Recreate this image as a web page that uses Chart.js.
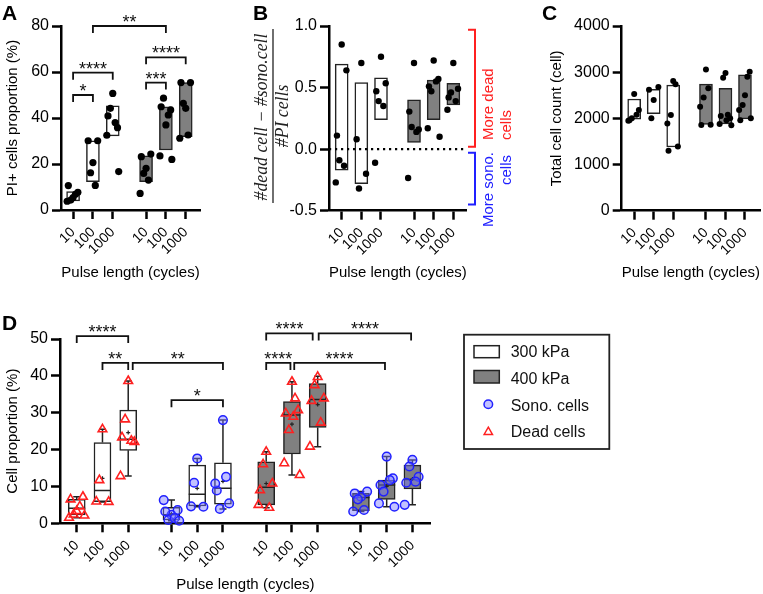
<!DOCTYPE html>
<html><head><meta charset="utf-8">
<script src="https://cdn.jsdelivr.net/npm/chart.js@4.4.0/dist/chart.umd.min.js"></script>
<style>
html,body{margin:0;padding:0;background:#fff;}
#wrap{position:relative;width:763px;height:594px;overflow:hidden;background:#fff;}
canvas{position:absolute;}
</style></head><body>
<div id="wrap">
<canvas id="cA" width="245" height="290" style="left:0px;top:0px"></canvas>
<canvas id="cB" width="275" height="290" style="left:240px;top:0px"></canvas>
<canvas id="cC" width="238" height="290" style="left:525px;top:0px"></canvas>
<canvas id="cD" width="763" height="294" style="left:0px;top:300px"></canvas>
</div>
<script>
// ---------------- DATA ----------------
const tickLabels = ['10', '100', '1000', '10', '100', '1000'];
const tickLabelsD = ['10', '100', '1000', '10', '100', '1000', '10', '100', '1000', '10', '100', '1000'];
const groupNames = ['300 kPa', '400 kPa'];
const seriesNames = ['Sono. cells', 'Dead cells'];

// box statistics per box: [min, q1, median, q3, max, mean]
// Panel A – PI+ cells proportion (%); 300 kPa (10,100,1000), 400 kPa (10,100,1000)
const A_stats = [
  [3.8, 4.0, 5.8, 8.0, 10.6, 6.4],
  [10.7, 12.3, 23.2, 30.1, 30.1, 21.7],
  [16.7, 32.2, 36.7, 45.3, 50.7, 36.2],
  [7.2, 12.3, 17.0, 23.6, 24.3, 16.9],
  [22.0, 26.1, 40.6, 44.9, 48.6, 37.5],
  [31.2, 31.9, 44.2, 55.4, 55.4, 44.0]
];
const A_points = [
  [5.4, 10.6, 7.7, 4.3, 6.8, 3.8],
  [20.6, 30.1, 30.1, 16.2, 10.7],
  [50.7, 40.9, 35.8, 44.2, 38.0, 32.5, 16.7],
  [18.1, 23.2, 24.3, 15.9, 13.0, 7.2],
  [37.0, 44.9, 43.5, 48.6, 41.3, 23.5, 22.0],
  [44.2, 55.4, 55.4, 46.4, 32.6, 31.2]
];
// Panel B – (#dead cell − #sono.cell) / #PI cells
const B_stats = [
  [-0.27, -0.17, 0.014, 0.69, 0.85, 0.19],
  [-0.32, -0.28, -0.054, 0.54, 0.70, 0.06],
  [-0.11, 0.24, 0.42, 0.58, 0.75, 0.38],
  [-0.235, 0.054, 0.17, 0.40, 0.70, 0.20],
  [0.10, 0.24, 0.49, 0.56, 0.72, 0.43],
  [0.32, 0.36, 0.45, 0.535, 0.70, 0.46]
];
const B_points = [
  [0.85, 0.11, 0.64, -0.09, -0.135, -0.27],
  [0.70, 0.08, -0.20, -0.32],
  [0.75, 0.47, 0.535, 0.39, 0.35, -0.11],
  [0.70, 0.305, 0.16, 0.18, 0.14, -0.235],
  [0.72, 0.51, 0.57, 0.47, 0.55, 0.17, 0.10],
  [0.70, 0.42, 0.49, 0.46, 0.39, 0.32]
];
// Panel C – Total cell count (cell)
const C_stats = [
  [1950, 1980, 2080, 2420, 2530, 2150],
  [2000, 2100, 2480, 2630, 2680, 2400],
  [1300, 1380, 1990, 2720, 2810, 2050],
  [1855, 1870, 2350, 2740, 3060, 2380],
  [1850, 1880, 2080, 2650, 2980, 2200],
  [1960, 1990, 2560, 2940, 3010, 2450]
];
const C_points = [
  [2530, 1960, 2180, 2000, 2080, 1950],
  [2400, 2620, 2680, 2000],
  [2810, 1300, 1390, 2070, 2740, 1890],
  [3060, 1855, 1860, 2450, 2650, 2250],
  [2980, 2050, 2000, 2880, 2080, 1880, 1850, 1960],
  [2500, 1960, 3010, 2290, 2900, 2180, 2000]
];
// Panel D – Cell proportion (%)
// 300 kPa dead (10,100,1000), 300 kPa sono (10,100,1000), 400 kPa dead (...), 400 kPa sono (...)
const D_stats = [
  [1.5, 2.3, 4.1, 6.5, 7.2, 4.2],
  [5.8, 5.9, 8.9, 21.9, 25.5, 12.2],
  [12.8, 19.8, 22.8, 30.7, 38.6, 24.6],
  [0.7, 0.9, 2.3, 4.3, 6.3, 2.6],
  [4.5, 4.7, 7.9, 15.8, 17.6, 9.5],
  [3.9, 5.2, 9.5, 16.4, 28.0, 11.4],
  [4.2, 5.0, 9.8, 16.7, 19.4, 10.8],
  [13.1, 18.8, 29.4, 33.0, 38.4, 26.9],
  [20.8, 26.0, 33.6, 37.9, 39.9, 32.2],
  [3.2, 3.4, 7.0, 8.1, 8.6, 6.2],
  [4.5, 6.5, 10.4, 11.7, 18.1, 10.0],
  [5.0, 9.3, 11.9, 15.8, 17.2, 12.0]
];
const D_points = [
  [3.3, 6.5, 7.2, 2.4, 4.6, 1.5, 2.1],
  [25.5, 5.9, 5.8, 11.7],
  [38.6, 23.3, 22.1, 28.2, 22.4, 12.8],
  [2.3, 3.2, 3.6, 0.9, 1.4, 6.3, 0.7],
  [17.6, 4.6, 4.5, 11.0],
  [28.0, 8.9, 5.4, 3.9, 12.6, 10.8],
  [19.4, 9.0, 10.8, 16.0, 4.2, 5.0],
  [38.4, 29.8, 30.7, 25.3, 33.9, 16.3, 13.1, 28.9],
  [39.7, 33.2, 33.9, 37.5, 27.3, 20.8],
  [7.2, 8.1, 8.6, 6.5, 3.6, 3.2],
  [18.1, 10.4, 12.2, 8.6, 11.7, 5.4, 4.5],
  [17.2, 11.0, 12.6, 15.4, 11.3, 5.0]
];
// significance annotations: [fromBox, toBox, height (axis units), label]
const A_sig = [[0, 1, 50, '*'], [0, 2, 59.7, '****'], [1, 4, 80, '**'], [3, 4, 55.4, '***'], [3, 5, 66.4, '****']];
const D_sig = [[0, 2, 50.8, '****'], [1, 2, 43.5, '**'], [2, 5, 43.5, '**'], [3, 5, 33.4, '*'],
               [6, 8, 51.5, '****'], [6, 7, 43.5, '****'], [8, 11, 51.5, '****'], [7, 10, 43.5, '****']];

// ---------------- LAYOUT / STYLE ----------------
const posABC = [0, 1, 2, 3.68, 4.68, 5.68];
const posD = [0, 1, 2, 3.68, 4.68, 5.68, 7.36, 8.36, 9.36, 11.04, 12.04, 13.04];
const D_sigNudge = [[0, 0], [0, 0], [4.5, 0], [0, 0], [0, -5], [0, -1.5], [1, -1.3], [2.3, -1.7]];
const JIT = [0, -0.24, 0.24, -0.12, 0.12, -0.3, 0.3, 0.05];
const WHITE = '#ffffff', GREY = '#808080';
const FONT = "'Liberation Sans', Arial, Helvetica, sans-serif";
Chart.defaults.font.family = FONT;
Chart.defaults.color = '#000';

function boxData(stats, pos) { return stats.map((s, i) => ({ x: pos[i], y: [s[1], s[3]] })); }
function pointData(points, pos, idxs) {
  const out = [];
  idxs.forEach(i => points[i].forEach((v, k) => out.push({ x: pos[i] + JIT[k % JIT.length], y: v })));
  return out;
}

const boxPlugin = {
  id: 'boxExtras',
  afterDatasetDraw(chart, args, opts) {
    if (args.meta.type !== 'bar' || !opts.stats) return;
    const ctx = chart.ctx, xs = chart.scales.x, ys = chart.scales.y;
    const Y = v => ys.getPixelForValue(v);
    ctx.save();
    ctx.strokeStyle = '#222';
    opts.stats.forEach((s, i) => {
      const px = xs.getPixelForValue(opts.pos[i]);
      const [mn, q1, md, q3, mx, mean] = s;
      const hw = opts.boxW / 2, cap = opts.cap;
      ctx.lineWidth = 1.5;
      ctx.beginPath();
      ctx.moveTo(px, Y(q3)); ctx.lineTo(px, Y(mx));
      ctx.moveTo(px - cap, Y(mx)); ctx.lineTo(px + cap, Y(mx));
      ctx.moveTo(px, Y(q1)); ctx.lineTo(px, Y(mn));
      ctx.moveTo(px - cap, Y(mn)); ctx.lineTo(px + cap, Y(mn));
      ctx.moveTo(px - hw, Y(md)); ctx.lineTo(px + hw, Y(md));
      ctx.stroke();
      ctx.lineWidth = 1.2;
      const m = Y(mean), a = 2;
      ctx.beginPath();
      ctx.moveTo(px - a, m); ctx.lineTo(px + a, m);
      ctx.moveTo(px, m - a); ctx.lineTo(px, m + a);
      ctx.stroke();
    });
    ctx.restore();
  }
};

const sigPlugin = {
  id: 'sig',
  afterDraw(chart, args, opts) {
    if (!opts.items) return;
    const ctx = chart.ctx, xs = chart.scales.x, ys = chart.scales.y;
    ctx.save();
    ctx.strokeStyle = '#111'; ctx.fillStyle = '#111'; ctx.lineWidth = 1.8;
    ctx.font = opts.size + 'px ' + FONT; ctx.textAlign = 'center'; ctx.textBaseline = 'alphabetic';
    opts.items.forEach((it, k) => {
      const [i, j, v, label] = it;
      const n = (opts.nudge && opts.nudge[k]) || [0, 0];
      const x1 = xs.getPixelForValue(opts.pos[i]) + n[0];
      const x2 = xs.getPixelForValue(opts.pos[j]) + n[1];
      const yy = ys.getPixelForValue(v);
      ctx.beginPath();
      ctx.moveTo(x1, yy + opts.leg); ctx.lineTo(x1, yy); ctx.lineTo(x2, yy); ctx.lineTo(x2, yy + opts.leg);
      ctx.stroke();
      ctx.fillText(label, (x1 + x2) / 2, yy + opts.textDy);
    });
    ctx.restore();
  }
};

const letterPlugin = {
  id: 'letter',
  afterDraw(chart, args, o) {
    if (!o.text) return;
    const ctx = chart.ctx;
    ctx.save();
    ctx.font = 'bold 21px ' + FONT; ctx.fillStyle = '#000'; ctx.textBaseline = 'alphabetic';
    ctx.fillText(o.text, o.x, o.y);
    ctx.restore();
  }
};

const bPlugin = {
  id: 'bExtras',
  afterDraw(chart, args, o) {
    if (!o.on) return;
    const ctx = chart.ctx, ys = chart.scales.y;
    ctx.save();
    // fraction title
    const num = '#dead cell \u2212 #sono.cell', den = '#PI cells';
    const ff = "'Liberation Serif', 'DejaVu Serif', serif";
    ctx.font = 'italic 16px ' + ff;
    let fs = 16 * 167 / ctx.measureText(num).width;
    ctx.font = 'italic ' + fs.toFixed(2) + 'px ' + ff;
    ctx.fillStyle = '#222'; ctx.textAlign = 'center'; ctx.textBaseline = 'middle';
    [[num, 22, 117], [den, 43, 116]].forEach(([t, x, y]) => {
      ctx.save(); ctx.translate(x, y); ctx.rotate(-Math.PI / 2); ctx.fillText(t, 0, 0); ctx.restore();
    });
    ctx.strokeStyle = '#222'; ctx.lineWidth = 1.3;
    ctx.beginPath(); ctx.moveTo(33, 116 - 87); ctx.lineTo(33, 116 + 87); ctx.stroke();
    // side brackets
    const bx = 235;
    const br = (c, v1, v2) => {
      const y1 = ys.getPixelForValue(v1), y2 = ys.getPixelForValue(v2);
      ctx.strokeStyle = c; ctx.lineWidth = 2;
      ctx.beginPath(); ctx.moveTo(bx - 7, y1); ctx.lineTo(bx, y1); ctx.lineTo(bx, y2); ctx.lineTo(bx - 7, y2); ctx.stroke();
    };
    br('#ff2020', 0.97, 0.02);
    br('#2020ff', -0.03, -0.45);
    ctx.font = '15px ' + FONT; ctx.textBaseline = 'middle';
    const rt = (t, x, y, c, align) => {
      ctx.save(); ctx.fillStyle = c; ctx.textAlign = align; ctx.translate(x, y); ctx.rotate(-Math.PI / 2); ctx.fillText(t, 0, 0); ctx.restore();
    };
    rt('More dead', 249, 140, '#ff2020', 'left');
    rt('cells', 267, 140, '#ff2020', 'left');
    rt('More sono.', 249, 152, '#2020ff', 'right');
    rt('cells', 267, 155, '#2020ff', 'right');
    ctx.restore();
  }
};

const legendPlugin = {
  id: 'boxLegend',
  afterDraw(chart, args, o) {
    if (!o.on) return;
    const ctx = chart.ctx;
    ctx.save();
    ctx.strokeStyle = '#222'; ctx.lineWidth = 1.8;
    ctx.strokeRect(464, 34.7, 145.3, 114.3);
    ctx.lineWidth = 1.5;
    ctx.fillStyle = WHITE; ctx.fillRect(474, 45.7, 25.3, 12); ctx.strokeRect(474, 45.7, 25.3, 12);
    ctx.fillStyle = GREY; ctx.fillRect(474, 70.5, 25.3, 12.5); ctx.strokeRect(474, 70.5, 25.3, 12.5);
    ctx.fillStyle = 'rgba(120,120,255,0.45)'; ctx.strokeStyle = '#2020ff';
    Chart.helpers.drawPoint(ctx, { pointStyle: 'circle', radius: 4.3, borderWidth: 1.5, rotation: 0 }, 488.3, 104.3);
    ctx.fillStyle = 'rgba(255,255,255,0)'; ctx.strokeStyle = '#ff2020';
    Chart.helpers.drawPoint(ctx, { pointStyle: 'triangle', radius: 4.8, borderWidth: 1.6, rotation: 0 }, 488.3, 132);
    ctx.fillStyle = '#111'; ctx.font = '16px ' + FONT; ctx.textBaseline = 'middle'; ctx.textAlign = 'left';
    ctx.fillText(groupNames[0], 510.7, 53);
    ctx.fillText(groupNames[1], 510.7, 79.5);
    ctx.fillText(seriesNames[0], 510.7, 106.5);
    ctx.fillText(seriesNames[1], 510.7, 132.5);
    ctx.restore();
  }
};

const allPlugins = [boxPlugin, sigPlugin, letterPlugin, bPlugin, legendPlugin];

function makeOptions(p) {
  return {
    responsive: false, animation: false, devicePixelRatio: 1,
    layout: { padding: { left: 0, top: p.top, right: p.right, bottom: 0 } },
    plugins: Object.assign({ legend: { display: false }, tooltip: { enabled: false } }, p.plugins),
    scales: {
      x: {
        type: 'linear', min: p.xmin, max: p.xmax, offset: false,
        afterBuildTicks: s => { s.ticks = p.pos.map(v => ({ value: v })); },
        afterFit: s => { s.height = p.xH; },
        ticks: { autoSkip: false, minRotation: 45, maxRotation: 45, padding: 5, font: { size: 14 }, color: '#000',
                 callback: (v, i) => p.labels[i] },
        grid: { drawOnChartArea: false, drawTicks: true, tickLength: 9, tickWidth: 2.5, tickColor: '#000', offset: false },
        border: { display: true, width: 2.5, color: '#000' },
        title: { display: true, text: 'Pulse length (cycles)', font: { size: 15 }, color: '#000', padding: { top: 0, bottom: p.xTitlePad } }
      },
      y: {
        type: 'linear', min: p.ymin, max: p.ymax,
        afterFit: s => { s.width = p.yW; },
        ticks: { stepSize: p.step, font: { size: 16 }, color: '#000', padding: 3, callback: p.yfmt },
        grid: { drawOnChartArea: false, drawTicks: true, tickLength: 9, tickWidth: 2.5, tickColor: '#000' },
        border: { display: true, width: 2.5, color: '#000' },
        title: { display: !!p.ytitle, text: p.ytitle || '', font: { size: 15 }, color: '#000', padding: { top: p.yTitlePad || 0, bottom: 0 } }
      }
    }
  };
}

const fills6 = [WHITE, WHITE, WHITE, GREY, GREY, GREY];
const fills12 = [WHITE, WHITE, WHITE, WHITE, WHITE, WHITE, GREY, GREY, GREY, GREY, GREY, GREY];
const plain = v => String(v);

function abcChart(id, stats, points, cfg) {
  const ds = [
    { type: 'bar', data: boxData(stats, posABC), backgroundColor: fills6, borderColor: '#222', borderWidth: 1.5,
      borderSkipped: false, barThickness: 13, order: 3 },
    { type: 'scatter', data: pointData(points, posABC, [0, 1, 2, 3, 4, 5]), pointRadius: cfg.r, pointHoverRadius: cfg.r,
      backgroundColor: '#000', borderColor: '#000', borderWidth: 0, order: 0, clip: false }
  ];
  if (cfg.zeroLine) ds.push({ type: 'line', data: [{ x: cfg.xmin, y: 0 }, { x: cfg.xmax, y: 0 }], borderColor: '#000',
      borderWidth: 2.2, borderDash: [2.2, 3.8], pointRadius: 0, order: 2, clip: false });
  return new Chart(document.getElementById(id), {
    type: 'scatter', data: { datasets: ds },
    options: makeOptions(Object.assign({ pos: posABC, labels: tickLabels,
      plugins: Object.assign({ boxExtras: { stats, pos: posABC, boxW: 13, cap: 3.5 } }, cfg.plugins) }, cfg)),
    plugins: allPlugins
  });
}

abcChart('cA', A_stats, A_points, {
  r: 3.6, top: 26, right: 45, yW: 61, xH: 80, xmin: -0.61, xmax: 6.40, xTitlePad: 8,
  ymin: 0, ymax: 80, step: 20, yfmt: plain, ytitle: 'PI+ cells proportion (%)', yTitlePad: 3.5,
  plugins: { sig: { items: A_sig, pos: posABC, size: 18, leg: 7, textDy: 2 }, letter: { text: 'A', x: 2, y: 20 } }
});
abcChart('cB', B_stats, B_points, {
  r: 3.2, top: 26, right: 48.3, yW: 89, xH: 79.3, xmin: -0.645, xmax: 6.36, xTitlePad: 8,
  ymin: -0.5, ymax: 1.0, step: 0.5, yfmt: v => Number(v).toFixed(1), zeroLine: true,
  plugins: { letter: { text: 'B', x: 13, y: 20 }, bExtras: { on: true } }
});
abcChart('cC', C_stats, C_points, {
  r: 3.0, top: 26, right: 1, yW: 96.7, xH: 79.3, xmin: -0.64, xmax: 6.45, xTitlePad: 8,
  ymin: 0, ymax: 4000, step: 1000, yfmt: plain, ytitle: 'Total cell count (cell)', yTitlePad: 23,
  plugins: { letter: { text: 'C', x: 17, y: 20 } }
});

new Chart(document.getElementById('cD'), {
  type: 'scatter',
  data: { datasets: [
    { type: 'bar', data: boxData(D_stats, posD), backgroundColor: fills12, borderColor: '#222', borderWidth: 1.5,
      borderSkipped: false, barThickness: 17, order: 3 },
    { type: 'scatter', label: seriesNames[0], data: pointData(D_points, posD, [3, 4, 5, 9, 10, 11]), pointStyle: 'circle',
      pointRadius: 4.3, pointHoverRadius: 4.3, backgroundColor: 'rgba(120,120,255,0.45)', borderColor: '#2020ff', borderWidth: 1.5, order: 1, clip: false },
    { type: 'scatter', label: seriesNames[1], data: pointData(D_points, posD, [0, 1, 2, 6, 7, 8]), pointStyle: 'triangle',
      pointRadius: 5, pointHoverRadius: 5, backgroundColor: 'rgba(255,255,255,0)', borderColor: '#ff2020', borderWidth: 1.6, order: 0, clip: false }
  ]},
  options: makeOptions({
    pos: posD, labels: tickLabelsD, top: 39, right: 332.3, yW: 60, xH: 70.7, xmin: -0.65, xmax: 13.75, xTitlePad: 0,
    ymin: 0, ymax: 50, step: 10, yfmt: plain, ytitle: 'Cell proportion (%)', yTitlePad: 3.5,
    plugins: {
      boxExtras: { stats: D_stats, pos: posD, boxW: 17, cap: 3.5 },
      sig: { items: D_sig, pos: posD, nudge: D_sigNudge, size: 18, leg: 7, textDy: 2 },
      letter: { text: 'D', x: 2, y: 30 },
      boxLegend: { on: true }
    }
  }),
  plugins: allPlugins
});
</script>
</body></html>
